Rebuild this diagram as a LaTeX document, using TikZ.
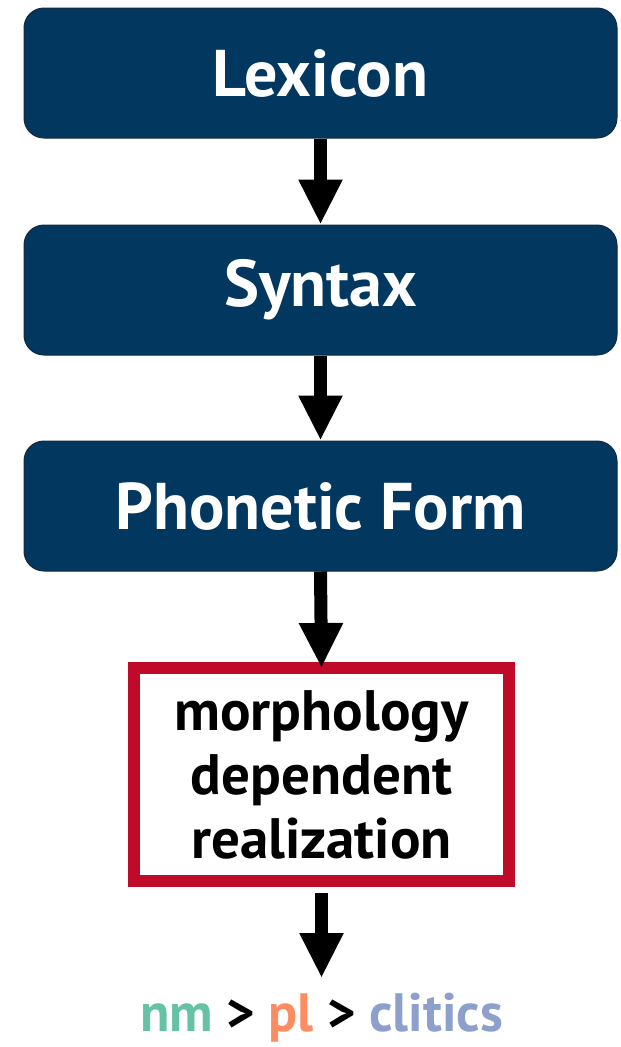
\documentclass[tikz,border=0pt]{standalone}
\usepackage{fontspec}
\setmainfont{PT Sans}
\usetikzlibrary{arrows.meta}
\definecolor{navy}{RGB}{2,56,96}
\definecolor{navyedge}{RGB}{20,40,60}
\definecolor{crimson}{RGB}{192,10,42}
\definecolor{setgreen}{RGB}{102,194,165}
\definecolor{setorange}{RGB}{252,141,98}
\definecolor{setblue}{RGB}{141,160,203}
\tikzset{
  stage/.style={rectangle, rounded corners=20pt, fill=navy, draw=navyedge,
    line width=1pt, minimum width=593pt, minimum height=130pt,
    text=white, font=\fontsize{66}{74}\selectfont\bfseries},
  realbox/.style={rectangle, draw=crimson, line width=12pt, fill=white,
    minimum width=375pt, minimum height=213pt, align=center,
    font=\fontsize{57}{64}\selectfont\bfseries},
  flow/.style={line width=13pt, -{Triangle[length=45pt, width=41pt]}},
  outcome/.style={font=\fontsize{54}{60}\selectfont\bfseries, inner sep=0pt}
}
\begin{document}
\begin{tikzpicture}[x=1pt, y=-1pt]
  \useasboundingbox (0,0) rectangle (621,1047);
  \node[stage] (lex) at (320.5,73) {Lexicon};
  \node[stage] (syn) at (320.5,290) {Syntax};
  \node[stage] (pf)  at (320.5,506) {Phonetic Form};
  \node[realbox] (mdr) at (321.5,774.5) {morphology\\dependent\\realization};
  \coordinate (end) at (321.5,978);
  \node[outcome] (res) at (321.5,1018)
    {\textcolor{setgreen}{nm} > \textcolor{setorange}{pl} > \textcolor{setblue}{clitics}};
  \draw[flow] (lex.south) -- (syn.north);
  \draw[flow] (syn.south) -- (pf.north);
  \draw[flow] (pf.south) -- ([yshift=-6pt]mdr.north);
  \draw[flow, shorten <=6pt] (mdr.south) -- (end);
\end{tikzpicture}
\end{document}
